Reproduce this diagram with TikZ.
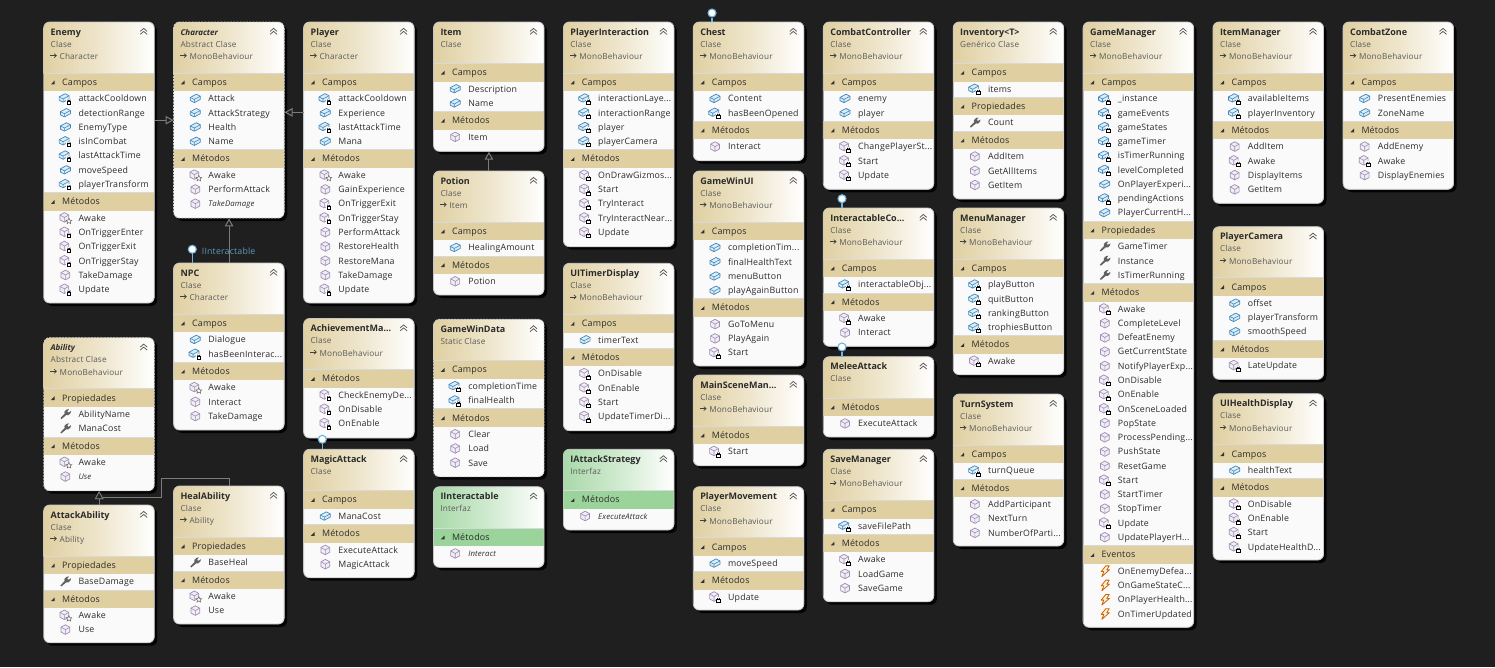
\documentclass[tikz,border=0pt]{standalone}
\usepackage{fontspec}
\setmainfont{Open Sans}
\newfontfamily\rowfont{Open Sans}[LetterSpace=2]
\usetikzlibrary{arrows.meta,calc}
\definecolor{bgc}{HTML}{1F1F1F}
\definecolor{hdr}{HTML}{E0D0A2}
\definecolor{bandc}{HTML}{DFCFA1}
\definecolor{hdrg}{HTML}{A9D9A9}
\definecolor{bandg}{HTML}{9BD49B}
\definecolor{rowbg}{HTML}{FAFAFA}
\definecolor{txt}{HTML}{2B2B2B}
\definecolor{sub}{HTML}{5A5A5A}
\definecolor{conn}{HTML}{7C7C7C}
\definecolor{lolli}{HTML}{6FB3E0}
\definecolor{fieldb}{HTML}{3F88BC}
\definecolor{fieldf}{HTML}{DDEDF7}
\definecolor{methb}{HTML}{9F8DB3}
\definecolor{methf}{HTML}{F1EDF5}
\newcommand\umlcolW{110.5}
\newcommand\el{.{}.{}.}
\pgfkeys{/uml/.is family,/uml,
  hc/.store in=\umlhc, bc/.store in=\umlbc, bstyle/.store in=\umlbs, tf/.store in=\umltf}
\tikzset{
  boxbase/.style={rectangle,rounded corners=6pt,inner sep=0pt,anchor=north west,fill=rowbg},
  solidedge/.style={draw=white!78!black,line width=.8pt,rounded corners=6pt},
  dashedge/.style={draw=white!80!black,line width=.9pt,rounded corners=6pt,dash pattern=on 2pt off 1.2pt},
  lbl/.style={inner sep=0pt,anchor=base west,text=txt,font=\rowfont\fontsize{8.8}{10}\selectfont},
  seclbl/.style={inner sep=0pt,anchor=base west,text=txt,font=\rowfont\fontsize{8.9}{10}\selectfont},
  sublbl/.style={inner sep=0pt,anchor=base west,text=sub,font=\rowfont\fontsize{8.2}{10}\selectfont},
  gen/.style={draw=conn,line width=1pt,-{Triangle[open,length=8pt,width=8.5pt,fill=bgc]}},
  lollistem/.style={draw=lolli,line width=1.1pt},
  lollihead/.style={circle,draw=lolli,fill=white,line width=1.1pt,minimum size=8pt,inner sep=0pt},
  icob/.pic={\path[draw=fieldb,fill=fieldf,line width=.7pt,line join=round] (-5,-1)--(1,-4.2)--(5,-2.2)--(5,1)--(-1,4.2)--(-5,2.2)--cycle;
    \draw[fieldb,line width=.6pt,line join=round] (-5,-1)--(-1,1)--(5,-2.2) (-1,1)--(-1,4.2);},
  icoB/.pic={\begin{scope}[shift={(-1.3,-.5)},scale=.9]\pic {icob};\end{scope}\pic {lockmark};},
  icom/.pic={\path[draw=methb,fill=methf,line width=.7pt,line join=round] (0,-4.8)--(4.4,-2.4)--(4.4,2.4)--(0,4.8)--(-4.4,2.4)--(-4.4,-2.4)--cycle;
    \draw[methb,line width=.6pt,line join=round] (-4.4,-2.4)--(0,0)--(4.4,-2.4) (0,0)--(0,4.8);},
  icoM/.pic={\begin{scope}[shift={(-1,-.5)},scale=.85]\pic {icom};\end{scope}\pic {lockmark};},
  icoP/.pic={\begin{scope}[shift={(-1,-.5)},scale=.85]\pic {icom};\end{scope}
    \path[draw=black!60,fill=white,line width=.5pt] (3.5,.3)--(4.4,2.2)--(6.4,2.4)--(4.9,3.7)--(5.3,5.7)--(3.5,4.6)--(1.7,5.7)--(2.1,3.7)--(.6,2.4)--(2.6,2.2)--cycle;},
  icoV/.pic={\pic {icom};},
  lockmark/.pic={\fill[white] (.8,.4) rectangle (6.2,6.1);
    \draw[black,line width=.7pt] (1.6,2.6) rectangle (5.4,5.6);
    \draw[black,line width=.7pt] (2.5,2.6)--(2.5,1.7) arc[start angle=180,end angle=0,radius=1]--(4.5,2.6);},
  icow/.pic={\fill[black!62,line join=round] (-5,4)--(-4,5)--(1,.8)--(3,1)--(5.2,-1.2)--(5.6,-3.2)--(3.2,-1.6)--(1.8,-2.6)--(3.6,-5)--(1.2,-4.6)--(-1,-2.4)--(-.8,-.4)--cycle;},
  icoe/.pic={\path[draw=orange!80!black,fill=orange!12,line width=.8pt,line join=round] (1,-5.2)--(4.4,-5.2)--(2,-1.2)--(4.6,-1.2)--(-3,5.5)--(-1,.5)--(-3.6,.5)--cycle;},
}
% [options]{id}{x}{top}{bottom}{title}{kind}{base}{rows}
\newcommand\umlclass[9][]{%
  \pgfkeys{/uml,hc=hdr,bc=bandc,bstyle=solidedge,tf=\bfseries\fontsize{9}{10}\selectfont,#1}%
  \pgfmathsetmacro\umlh{#5-#4}%
  \pgfmathsetmacro\umlr{#3+\umlcolW}%
  \if\relax\detokenize{#8}\relax\def\umlH{41.3}\else\def\umlH{51}\fi
  \fill[black!92!bgc,rounded corners=6pt] (#3+3,#4+3) rectangle (\umlr+3,#5+3);
  \node[boxbase,minimum width=\umlcolW pt,minimum height=\umlh pt] (#2) at (#3,#4) {};
  \begin{scope}
    \clip[rounded corners=6pt] (#3,#4) rectangle (\umlr,#5);
    \shade[left color=\umlhc,right color=white,middle color=\umlhc!55!white] (#3,#4) rectangle (\umlr,#4+\umlH);
    \pgfmathsetmacro\umly{#4+\umlH-1.3}\xdef\umly{\umly}%
    \foreach \k/\t [count=\i] in {#9}{%
      \if S\k
        \pgfmathsetmacro\ya{\umly+1.3}\pgfmathsetmacro\yb{\ya+18.3}%
        \fill[\umlbc] (#3,\ya) rectangle (\umlr,\yb);
        \draw[white!85!black,line width=.6pt] (#3,\ya) -- (\umlr,\ya);
        \fill[black!80] (#3+11,\ya+7.5)--(#3+11,\ya+11.3)--(#3+7.3,\ya+11.3)--cycle;
        \node[seclbl] (#2-\i) at (#3+18.3,\ya+12.3) {\t};
        \xdef\umly{\yb}%
      \else
        \pgfmathsetmacro\ya{\umly+7.13}%
        \pic at (#3+21.7,\ya) {ico\k};
        \if V\k
          \node[lbl,font=\rowfont\itshape\fontsize{7.8}{10}\selectfont] (#2-\i) at (#3+34.6,\ya+3.1) {\t};
        \else
          \node[lbl] (#2-\i) at (#3+34.6,\ya+3.3) {\t};
        \fi
        \pgfmathsetmacro\yn{\umly+14.27}\xdef\umly{\yn}%
      \fi
    }
  \end{scope}
  \draw[\umlbs] (#3,#4) rectangle (\umlr,#5);
  \node[lbl,font=\umltf] (#2-title) at (#3+6.8,#4+13) {#6};
  \node[sublbl] (#2-kind) at (#3+6.8,#4+25.2) {#7};
  \if\relax\detokenize{#8}\relax\else
    \draw[black!75,line width=.7pt,-{Straight Barb[length=2.2pt,width=4pt]}] (#3+6.6,#4+33.6) -- (#3+13.2,#4+33.6);
    \node[sublbl] (#2-base) at (#3+15.8,#4+37.5) {#8};
  \fi
  \draw[black!65,line width=.75pt] (\umlr-14,#4+9.4)--(\umlr-10.5,#4+6.4)--(\umlr-7,#4+9.4) (\umlr-14,#4+12.4)--(\umlr-10.5,#4+9.4)--(\umlr-7,#4+12.4);
}
\begin{document}
\begin{tikzpicture}[x=1pt,y=-1pt]
\fill[bgc] (0,0) rectangle (1495,667);
\useasboundingbox (0,0) rectangle (1495,667);
\def\cA{43.7}\def\cB{173.6}\def\cC{303.6}\def\cD{433.5}\def\cE{563.4}\def\cF{693.3}\def\cG{823.3}\def\cH{953.2}\def\cI{1083.1}\def\cJ{1213}\def\cK{1343}
\umlclass{enemy}{\cA}{22}{303}{Enemy}{Clase}{Character}{S/Campos,B/attackCooldown,b/detectionRange,b/EnemyType,B/isInCombat,B/lastAttackTime,b/moveSpeed,B/playerTransform,S/Métodos,P/Awake,M/OnTriggerEnter,M/OnTriggerExit,M/OnTriggerStay,m/TakeDamage,M/Update}
\umlclass[tf=\bfseries\itshape\fontsize{8}{10}\selectfont,bstyle=dashedge]{character}{\cB}{22}{218}{Character}{Abstract Clase}{MonoBehaviour}{S/Campos,b/Attack,b/AttackStrategy,b/Health,b/Name,S/Métodos,P/Awake,m/PerformAttack,V/TakeDamage}
\umlclass{player}{\cC}{22}{303}{Player}{Clase}{Character}{S/Campos,B/attackCooldown,b/Experience,B/lastAttackTime,b/Mana,S/Métodos,P/Awake,m/GainExperience,M/OnTriggerExit,M/OnTriggerStay,m/PerformAttack,m/RestoreHealth,m/RestoreMana,m/TakeDamage,M/Update}
\umlclass{npc}{\cB}{263}{430}{NPC}{Clase}{Character}{S/Campos,b/Dialogue,B/hasBeenInterac\el,S/Métodos,P/Awake,m/Interact,m/TakeDamage}
\umlclass{achievement}{\cC}{318.5}{438}{AchievementMa\el}{Clase}{MonoBehaviour}{S/Métodos,M/CheckEnemyDe\el,M/OnDisable,M/OnEnable}
\umlclass{magic}{\cC}{449.3}{577.7}{MagicAttack}{Clase}{}{S/Campos,b/ManaCost,S/Métodos,m/ExecuteAttack,m/MagicAttack}
\umlclass[tf=\bfseries\itshape\fontsize{8}{10}\selectfont,bstyle=dashedge]{ability}{\cA}{337.7}{490.7}{Ability}{Abstract Clase}{MonoBehaviour}{S/Propiedades,w/AbilityName,w/ManaCost,S/Métodos,P/Awake,V/Use}
\umlclass{attackab}{\cA}{505}{642.7}{AttackAbility}{Clase}{Ability}{S/Propiedades,w/BaseDamage,S/Métodos,P/Awake,m/Use}
\umlclass{healab}{\cB}{486}{624}{HealAbility}{Clase}{Ability}{S/Propiedades,w/BaseHeal,S/Métodos,P/Awake,m/Use}
\umlclass{item}{\cD}{22}{151.3}{Item}{Clase}{}{S/Campos,b/Description,b/Name,S/Métodos,m/Item}
\umlclass{potion}{\cD}{171}{295}{Potion}{Clase}{Item}{S/Campos,b/HealingAmount,S/Métodos,m/Potion}
\umlclass[bstyle=dashedge]{gamewindata}{\cD}{319.3}{476.7}{GameWinData}{Static Clase}{}{S/Campos,B/completionTime,B/finalHealth,S/Métodos,m/Clear,m/Load,m/Save}
\umlclass[hc=hdrg,bc=bandg]{iinteract}{\cD}{486.7}{567.3}{IInteractable}{Interfaz}{}{S/Métodos,V/Interact}
\umlclass{playerint}{\cE}{22}{246.7}{PlayerInteraction}{Clase}{MonoBehaviour}{S/Campos,B/interactionLaye\el,B/interactionRange,B/player,B/playerCamera,S/Métodos,M/OnDrawGizmos\el,M/Start,M/TryInteract,M/TryInteractNear\el,M/Update}
\umlclass{uitimer}{\cE}{263.3}{430.7}{UITimerDisplay}{Clase}{MonoBehaviour}{S/Campos,b/timerText,S/Métodos,M/OnDisable,M/OnEnable,M/Start,M/UpdateTimerDi\el}
\umlclass[hc=hdrg,bc=bandg]{iattack}{\cE}{449.3}{530}{IAttackStrategy}{Interfaz}{}{S/Métodos,V/ExecuteAttack}
\umlclass{chest}{\cF}{22}{160.7}{Chest}{Clase}{MonoBehaviour}{S/Campos,b/Content,B/hasBeenOpened,S/Métodos,m/Interact}
\umlclass{gamewinui}{\cF}{171}{366}{GameWinUI}{Clase}{MonoBehaviour}{S/Campos,b/completionTim\el,b/finalHealthText,b/menuButton,b/playAgainButton,S/Métodos,m/GoToMenu,m/PlayAgain,M/Start}
\umlclass{mainscene}{\cF}{375}{465.7}{MainSceneMan\el}{Clase}{MonoBehaviour}{S/Métodos,M/Start}
\umlclass{playermove}{\cF}{486.7}{610}{PlayerMovement}{Clase}{MonoBehaviour}{S/Campos,b/moveSpeed,S/Métodos,M/Update}
\umlclass{combatctl}{\cG}{22}{189.3}{CombatController}{Clase}{MonoBehaviour}{S/Campos,b/enemy,b/player,S/Métodos,M/ChangePlayerSt\el,M/Start,M/Update}
\umlclass{interactco}{\cG}{208}{346.3}{InteractableCo\el}{Clase}{MonoBehaviour}{S/Campos,B/interactableObj\el,S/Métodos,M/Awake,m/Interact}
\umlclass{melee}{\cG}{356.7}{437}{MeleeAttack}{Clase}{}{S/Métodos,m/ExecuteAttack}
\umlclass{savemgr}{\cG}{449.3}{601.7}{SaveManager}{Clase}{MonoBehaviour}{S/Campos,B/saveFilePath,S/Métodos,M/Awake,m/LoadGame,m/SaveGame}
\umlclass{inventory}{\cH}{22}{199}{Inventory<T>}{Genérico Clase}{}{S/Campos,B/items,S/Propiedades,w/Count,S/Métodos,m/AddItem,m/GetAllItems,m/GetItem}
\umlclass{menumgr}{\cH}{208}{374.7}{MenuManager}{Clase}{MonoBehaviour}{S/Campos,B/playButton,B/quitButton,B/rankingButton,B/trophiesButton,S/Métodos,M/Awake}
\umlclass{turnsys}{\cH}{394}{546}{TurnSystem}{Clase}{MonoBehaviour}{S/Campos,B/turnQueue,S/Métodos,m/AddParticipant,m/NextTurn,m/NumberOfParti\el}
\umlclass{gamemgr}{\cI}{22}{627.3}{GameManager}{Clase}{MonoBehaviour}{S/Campos,B/\_instance,B/gameEvents,B/gameStates,B/gameTimer,B/isTimerRunning,B/levelCompleted,b/OnPlayerExperi\el,B/pendingActions,b/PlayerCurrentH\el,S/Propiedades,w/GameTimer,w/Instance,w/IsTimerRunning,S/Métodos,M/Awake,m/CompleteLevel,m/DefeatEnemy,m/GetCurrentState,m/NotifyPlayerExp\el,M/OnDisable,M/OnEnable,M/OnSceneLoaded,m/PopState,m/ProcessPending\el,m/PushState,m/ResetGame,M/Start,m/StartTimer,m/StopTimer,M/Update,m/UpdatePlayerH\el,S/Eventos,e/OnEnemyDefea\el,e/OnGameStateC\el,e/OnPlayerHealth\el,e/OnTimerUpdated}
\umlclass{itemmgr}{\cJ}{22}{203.3}{ItemManager}{Clase}{MonoBehaviour}{S/Campos,B/availableItems,B/playerInventory,S/Métodos,m/AddItem,M/Awake,m/DisplayItems,m/GetItem}
\umlclass{playercam}{\cJ}{226.7}{379.3}{PlayerCamera}{Clase}{MonoBehaviour}{S/Campos,b/offset,b/playerTransform,b/smoothSpeed,S/Métodos,M/LateUpdate}
\umlclass{uihealth}{\cJ}{393.7}{560}{UIHealthDisplay}{Clase}{MonoBehaviour}{S/Campos,b/healthText,S/Métodos,M/OnDisable,M/OnEnable,M/Start,M/UpdateHealthD\el}
\umlclass{combatzone}{\cK}{22}{189.3}{CombatZone}{Clase}{MonoBehaviour}{S/Campos,b/PresentEnemies,b/ZoneName,S/Métodos,m/AddEnemy,M/Awake,m/DisplayEnemies}
% generalisations
\coordinate (enemyout) at ($(enemy.north east)!0.349!(enemy.south east)$);
\coordinate (playerout) at ($(player.north west)!0.321!(player.south west)$);
\draw[gen] (enemyout) -- (enemyout -| character.west);
\draw[gen] (playerout) -- (playerout -| character.east);
\draw[gen] (npc.north) -- (character.south);
\draw[gen] (potion.north) -- (item.south);
\draw[gen] (attackab.north) -- (ability.south);
\coordinate (hbendA) at (161.7,478.7);
\coordinate (hbendB) at (161.7,497.3);
\draw[gen,line width=.8pt] (healab.north) -- (healab.north |- hbendA) -- (hbendA) -- (hbendB) -- (hbendB -| ability.south) -- (ability.south);
% lollipops
\node[lollihead] (lolnpc) at (192.3,249.3) {};
\draw[lollistem] (lolnpc.south) -- (lolnpc.south |- npc.north);
\node[inner sep=0pt,anchor=base west,text=lolli!85!black,font=\rowfont\fontsize{8.8}{10}\selectfont] (lolnpclabel) at (201.7,254.3) {IInteractable};
\node[lollihead] (lolchest) at (712,13) {};
\draw[lollistem] (lolchest.south) -- (lolchest.south |- chest.north);
\node[lollihead] (lolinter) at (842,198.7) {};
\draw[lollistem] (lolinter.south) -- (lolinter.south |- interactco.north);
\node[lollihead] (lolmelee) at (842,347) {};
\draw[lollistem] (lolmelee.south) -- (lolmelee.south |- melee.north);
\node[lollihead] (lolmagic) at (322.3,439.3) {};
\draw[lollistem] (lolmagic.south) -- (lolmagic.south |- magic.north);
\end{tikzpicture}
\end{document}
